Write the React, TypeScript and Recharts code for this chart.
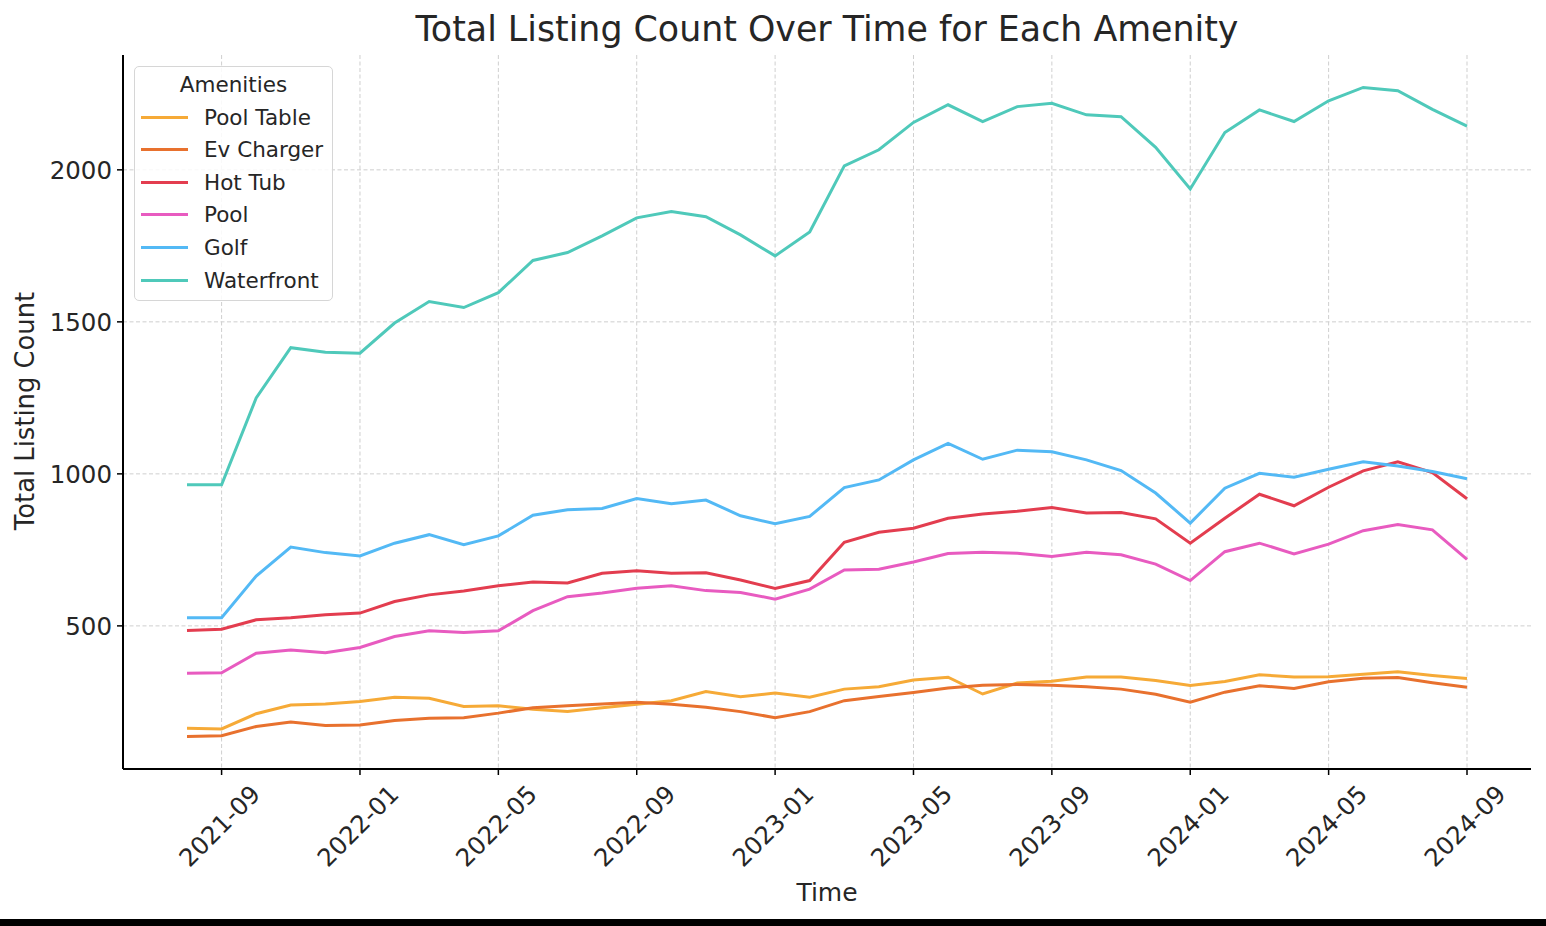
import React from 'react';
import { LineChart, Line, XAxis, YAxis, CartesianGrid, Legend, Customized } from 'recharts';

const months = [
  '2021-08', '2021-09', '2021-10', '2021-11', '2021-12',
  '2022-01', '2022-02', '2022-03', '2022-04', '2022-05', '2022-06', '2022-07', '2022-08', '2022-09', '2022-10', '2022-11', '2022-12',
  '2023-01', '2023-02', '2023-03', '2023-04', '2023-05', '2023-06', '2023-07', '2023-08', '2023-09', '2023-10', '2023-11', '2023-12',
  '2024-01', '2024-02', '2024-03', '2024-04', '2024-05', '2024-06', '2024-07', '2024-08', '2024-09',
];

const tickLabels = ['2021-09', '2022-01', '2022-05', '2022-09', '2023-01', '2023-05', '2023-09', '2024-01', '2024-05', '2024-09'];
const yTicks = [500, 1000, 1500, 2000];

const poolTable = [163, 161, 211, 240, 243, 251, 265, 262, 235, 237, 226, 218, 231, 242, 254, 284, 267, 279, 265, 292, 300, 322, 331, 276, 312, 318, 332, 332, 320, 304, 317, 339, 332, 333, 341, 349, 337, 327];
const evCharger = [136, 139, 169, 184, 172, 174, 189, 196, 198, 213, 231, 237, 243, 249, 242, 232, 218, 198, 218, 254, 268, 281, 296, 305, 307, 305, 300, 292, 275, 249, 282, 303, 294, 316, 328, 330, 313, 298];
const hotTub = [485, 489, 520, 527, 537, 542, 580, 602, 615, 632, 644, 641, 673, 681, 673, 675, 651, 623, 649, 775, 808, 821, 854, 868, 877, 889, 871, 873, 852, 772, 854, 933, 895, 956, 1010, 1040, 1004, 918];
const pool = [344, 346, 410, 421, 412, 429, 465, 484, 478, 484, 550, 596, 608, 624, 632, 616, 610, 588, 621, 684, 686, 710, 738, 742, 739, 728, 742, 734, 703, 649, 744, 772, 737, 769, 813, 833, 816, 719];
const golf = [527, 527, 664, 759, 741, 730, 772, 800, 767, 796, 864, 882, 886, 919, 902, 914, 862, 836, 860, 955, 980, 1046, 1100, 1048, 1078, 1073, 1046, 1011, 937, 838, 953, 1002, 989, 1015, 1040, 1026, 1008, 984];
const waterfront = [964, 964, 1250, 1415, 1400, 1397, 1496, 1567, 1547, 1596, 1702, 1728, 1783, 1842, 1863, 1846, 1786, 1717, 1796, 2013, 2066, 2156, 2214, 2159, 2208, 2219, 2181, 2175, 2074, 1937, 2123, 2197, 2159, 2227, 2271, 2260, 2199, 2144];

const seriesNames = ['Pool Table', 'Ev Charger', 'Hot Tub', 'Pool', 'Golf', 'Waterfront'];
const seriesValues = [poolTable, evCharger, hotTub, pool, golf, waterfront];
const seriesColors = ['#F6AA37', '#E8712E', '#E33D4F', '#E85BC0', '#53B9F5', '#4FC9BA'];

const data = months.map((m, i) => {
  const row: Record<string, number | string> = { t: i, month: m };
  seriesNames.forEach((name, s) => {
    row[name] = seriesValues[s][i];
  });
  return row;
});

const allValues = seriesValues.flat();
const yMin = Math.min(...allValues);
const yMax = Math.max(...allValues);
const yPad = (yMax - yMin) * 0.05;
const xPad = (months.length - 1) * 0.05;
const xTicks = tickLabels.map((l) => months.indexOf(l));

const FONT = "'DejaVu Sans', sans-serif";
const TEXT = '#262626';

const XTick = (props: any) => {
  const { x, y, payload } = props;
  const label = months[payload.value];
  return (
    <g transform={`translate(${x - 2},${y + 49})`}>
      <text
        transform="rotate(-45)"
        textAnchor="middle"
        dominantBaseline="central"
        fontSize={24.5}
        fill={TEXT}
        fontFamily={FONT}
      >
        {label}
      </text>
    </g>
  );
};

const LegendBox = () => (
  <div
    style={{
      position: 'relative',
      width: 199,
      height: 235,
      boxSizing: 'border-box',
      border: '1.5px solid #d6d6d6',
      borderRadius: 5,
      background: 'rgba(255,255,255,0.85)',
      fontFamily: FONT,
      color: TEXT,
    }}
  >
    <div
      style={{
        position: 'absolute',
        left: 0,
        top: 0,
        width: '100%',
        height: 36,
        lineHeight: '36px',
        textAlign: 'center',
        fontSize: 21.5,
      }}
    >
      Amenities
    </div>
    {seriesNames.map((name, i) => (
      <div
        key={name}
        style={{
          position: 'absolute',
          left: 0,
          top: 34 + i * 32.6,
          height: 32,
          width: '100%',
          display: 'flex',
          alignItems: 'center',
          fontSize: 21.5,
        }}
      >
        <span
          style={{
            display: 'inline-block',
            marginLeft: 6,
            width: 47,
            height: 3,
            background: seriesColors[i],
          }}
        />
        <span style={{ marginLeft: 16, whiteSpace: 'nowrap' }}>{name}</span>
      </div>
    ))}
  </div>
);

const Texts = () => (
  <g fontFamily={FONT} fill={TEXT}>
    <text x={827} y={41} textAnchor="middle" fontSize={34.8} fill={TEXT}>
      Total Listing Count Over Time for Each Amenity
    </text>
    <text x={827} y={901} textAnchor="middle" fontSize={25} fill={TEXT}>
      Time
    </text>
    <text
      x={34}
      y={411}
      textAnchor="middle"
      fontSize={25.8}
      fill={TEXT}
      transform="rotate(-90 34 411)"
    >
      Total Listing Count
    </text>
  </g>
);

export default function App() {
  return (
    <div style={{ position: 'absolute', left: 0, top: 0, width: 1546, height: 926, background: '#fff' }}>
      <LineChart
        width={1546}
        height={926}
        data={data}
        margin={{ top: 55, right: 15, bottom: 57, left: 43 }}
        style={{ fontFamily: FONT }}
      >
        <CartesianGrid
          stroke="#cfcfcf"
          strokeDasharray="4 2.5"
          strokeWidth={1}
          horizontalValues={yTicks}
          verticalValues={xTicks}
        />
        <XAxis
          dataKey="t"
          type="number"
          domain={[-xPad, months.length - 1 + xPad]}
          ticks={xTicks}
          interval={0}
          height={100}
          tickSize={6}
          tickMargin={2}
          tick={<XTick />}
          axisLine={{ stroke: '#000', strokeWidth: 2 }}
          tickLine={{ stroke: '#000', strokeWidth: 1.5 }}
          allowDataOverflow
        />
        <YAxis
          type="number"
          domain={[yMin - yPad, yMax + yPad]}
          ticks={yTicks}
          interval={0}
          width={80}
          tickSize={6}
          tickMargin={5}
          tick={{ fontSize: 24.5, fill: TEXT, fontFamily: FONT }}
          axisLine={{ stroke: '#000', strokeWidth: 2 }}
          tickLine={{ stroke: '#000', strokeWidth: 1.5 }}
          allowDataOverflow
        />
        {seriesNames.map((name, i) => (
          <Line
            key={name}
            type="linear"
            dataKey={name}
            stroke={seriesColors[i]}
            strokeWidth={3}
            dot={false}
            activeDot={false}
            isAnimationActive={false}
          />
        ))}
        <Legend
          layout="vertical"
          align="center"
          verticalAlign="middle"
          content={<LegendBox />}
          wrapperStyle={{ left: 134, top: 66, width: 199, height: 235 }}
        />
        <Customized component={<Texts />} />
      </LineChart>
      <div style={{ position: 'absolute', left: 0, top: 919, width: 1546, height: 7, background: '#000' }} />
    </div>
  );
}
